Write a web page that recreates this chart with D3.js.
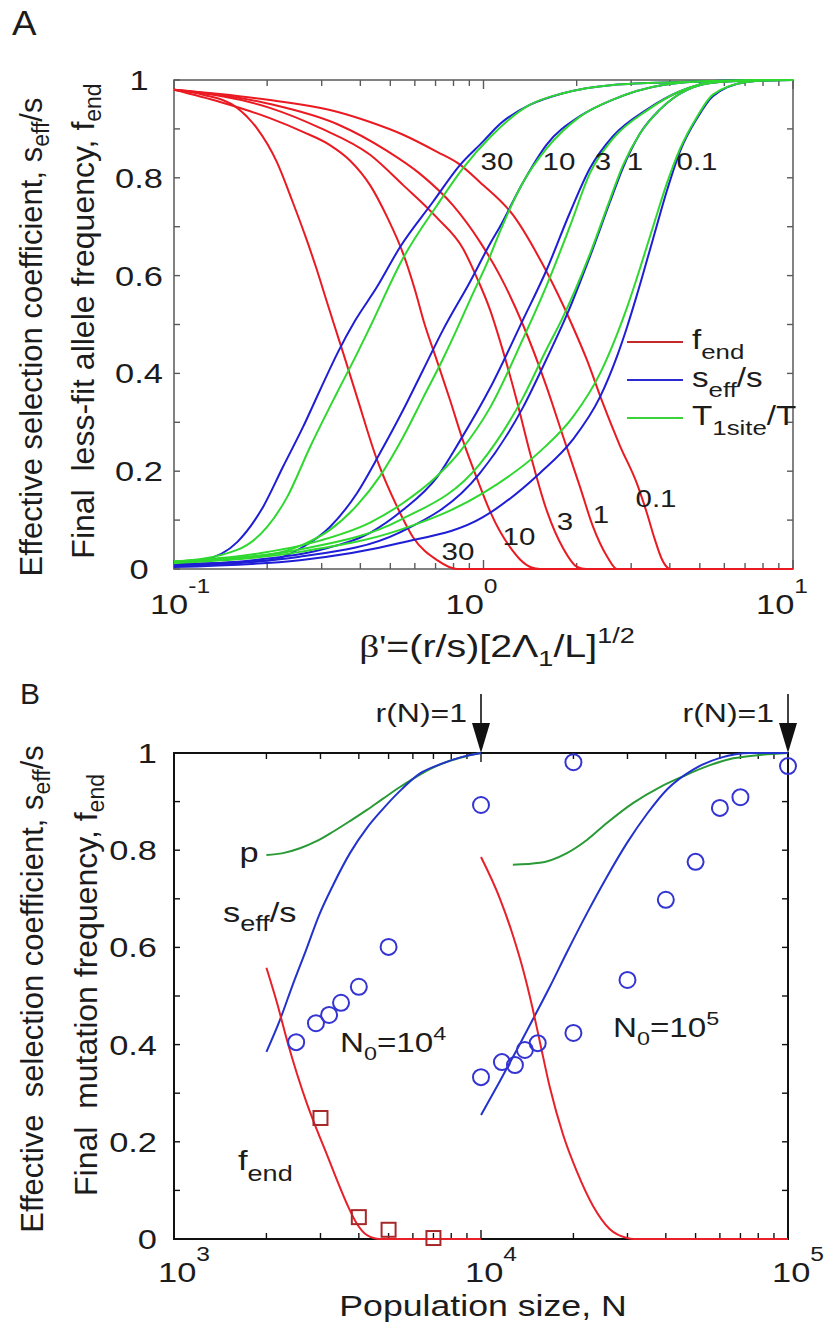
<!DOCTYPE html>
<html>
<head>
<meta charset="utf-8">
<script src="https://cdn.jsdelivr.net/npm/d3@7"></script>
<style>
    body { margin: 0; background: #fff; }
    svg text { font-family: "Liberation Sans", Arial, sans-serif; fill: #1c1c1c; white-space: pre; }
</style>
</head>
<body>
<svg id="canvas" width="824" height="1325"></svg>
<script>
// ---- panel A : [beta', value], one list per curve ----
const fEnd30 = [[0.1,0.98],[0.124,0.97],[0.16,0.943],[0.185,0.902],[0.215,0.832],[0.242,0.75],[0.267,0.677],[0.288,0.616],[0.312,0.546],[0.329,0.5],[0.352,0.442],[0.39,0.352],[0.453,0.223],[0.526,0.127],[0.592,0.065],[0.708,0.018],[0.82,0],[10,0]];
const fEnd10 = [[0.1,0.98],[0.141,0.955],[0.204,0.922],[0.261,0.894],[0.319,0.867],[0.371,0.835],[0.43,0.785],[0.488,0.72],[0.55,0.645],[0.601,0.57],[0.642,0.505],[0.708,0.425],[0.78,0.345],[0.859,0.262],[0.953,0.185],[1.05,0.118],[1.13,0.077],[1.24,0.038],[1.31,0.02],[1.43,0.003],[1.52,0],[10,0]];
const fEnd3 = [[0.1,0.98],[0.204,0.943],[0.296,0.902],[0.43,0.847],[0.55,0.785],[0.708,0.718],[0.859,0.655],[0.953,0.595],[1.05,0.53],[1.157,0.445],[1.28,0.345],[1.41,0.24],[1.6,0.12],[1.81,0.042],[2.0,0.005],[2.15,0],[10,0]];
const fEnd1 = [[0.1,0.98],[0.204,0.951],[0.336,0.91],[0.488,0.855],[0.624,0.808],[0.796,0.744],[0.974,0.669],[1.13,0.6],[1.34,0.5],[1.6,0.372],[1.81,0.27],[2.05,0.168],[2.26,0.086],[2.51,0.025],[2.7,0],[10,0]];
const fEnd01 = [[0.1,0.98],[0.204,0.959],[0.336,0.935],[0.43,0.914],[0.55,0.888],[0.708,0.853],[0.839,0.827],[0.974,0.791],[1.245,0.724],[1.556,0.622],[1.93,0.5],[2.16,0.427],[2.43,0.339],[2.76,0.252],[3.13,0.175],[3.37,0.115],[3.58,0.06],[3.77,0.02],[3.95,0.002],[4.05,0],[10,0]];

const sEff30 = [[0.1,0.012],[0.124,0.018],[0.16,0.055],[0.194,0.127],[0.225,0.209],[0.261,0.29],[0.296,0.365],[0.339,0.444],[0.384,0.507],[0.453,0.577],[0.537,0.658],[0.687,0.751],[0.839,0.826],[0.996,0.874],[1.13,0.91],[1.41,0.949],[1.81,0.973],[2.62,0.99],[4.32,0.996],[10,1]];
const sEff10 = [[0.1,0.01],[0.204,0.018],[0.261,0.045],[0.319,0.086],[0.39,0.155],[0.463,0.237],[0.55,0.325],[0.638,0.407],[0.74,0.489],[0.904,0.587],[1.05,0.665],[1.13,0.7],[1.34,0.79],[1.6,0.868],[2.05,0.926],[2.62,0.96],[3.8,0.99],[5.51,0.998],[10,1]];
const sEff3 = [[0.1,0.008],[0.18,0.018],[0.296,0.039],[0.43,0.074],[0.55,0.121],[0.708,0.188],[0.839,0.262],[1.05,0.37],[1.34,0.509],[1.6,0.612],[1.9,0.728],[2.21,0.82],[2.62,0.885],[3.38,0.94],[4.32,0.977],[5.51,0.996],[7.8,1],[10,1]];
const sEff1 = [[0.1,0.006],[0.255,0.025],[0.537,0.075],[0.974,0.196],[1.34,0.33],[1.6,0.43],[1.86,0.52],[2.21,0.64],[2.56,0.75],[2.82,0.82],[3.2,0.89],[3.72,0.94],[4.55,0.98],[5.8,0.996],[9,1],[10,1]];
const sEff01 = [[0.1,0.004],[0.255,0.018],[0.537,0.053],[0.996,0.106],[1.52,0.196],[1.94,0.264],[2.38,0.352],[2.7,0.435],[2.91,0.495],[3.13,0.56],[3.53,0.675],[3.92,0.775],[4.32,0.855],[4.9,0.922],[5.51,0.967],[7.1,0.996],[9.08,1],[10,1]];

const tSite30 = [[0.1,0.014],[0.16,0.039],[0.2,0.086],[0.232,0.147],[0.275,0.249],[0.336,0.36],[0.39,0.44],[0.43,0.495],[0.55,0.636],[0.708,0.744],[0.859,0.82],[1.05,0.883],[1.41,0.949],[1.81,0.973],[2.62,0.99],[4.32,0.996],[10,1]];
const tSite10 = [[0.1,0.016],[0.204,0.03],[0.261,0.05],[0.319,0.08],[0.39,0.13],[0.463,0.19],[0.55,0.27],[0.638,0.35],[0.74,0.43],[0.82,0.49],[0.904,0.55],[1.05,0.64],[1.13,0.69],[1.34,0.79],[1.6,0.86],[2.05,0.925],[2.62,0.96],[3.8,0.99],[5.51,0.998],[10,1]];
const tSite3 = [[0.1,0.015],[0.18,0.03],[0.296,0.058],[0.43,0.095],[0.55,0.135],[0.708,0.19],[0.839,0.24],[1.05,0.33],[1.34,0.47],[1.6,0.58],[1.9,0.7],[2.21,0.81],[2.62,0.88],[3.38,0.938],[4.32,0.977],[5.51,0.996],[7.8,1],[10,1]];
const tSite1 = [[0.1,0.014],[0.255,0.04],[0.537,0.1],[0.974,0.215],[1.34,0.35],[1.6,0.45],[1.79,0.51],[2.21,0.645],[2.56,0.755],[2.82,0.825],[3.2,0.89],[3.72,0.94],[4.55,0.98],[5.8,0.996],[9,1],[10,1]];
const tSite01 = [[0.1,0.012],[0.255,0.035],[0.537,0.08],[0.996,0.155],[1.52,0.24],[1.94,0.31],[2.38,0.4],[2.7,0.48],[2.91,0.535],[3.13,0.595],[3.53,0.7],[3.92,0.79],[4.32,0.86],[4.9,0.925],[5.51,0.97],[7.1,0.996],[9.08,1],[10,1]];

const familyNames = ["30", "10", "3", "1", "0.1"];
const legendNames = ["f_end", "s_eff/s", "T_1site/T"];

// ---- panel B : [N, value] ----
const pLeft = [[2000,0.79],[2265,0.794],[2572,0.804],[2923,0.819],[3296,0.838],[3743,0.86],[4252,0.883],[4795,0.906],[5447,0.93],[6190,0.952],[6978,0.97],[7925,0.984],[9000,0.994],[10000,1]];
const sEffLeft = [[2000,0.385],[2214,0.451],[2436,0.523],[2694,0.595],[2972,0.667],[3296,0.728],[3743,0.794],[4252,0.846],[4795,0.885],[5447,0.922],[6330,0.958],[7380,0.977],[8570,0.991],[10000,1]];
const fEndLeft = [[2000,0.558],[2165,0.486],[2334,0.409],[2515,0.34],[2712,0.278],[2923,0.224],[3151,0.173],[3396,0.121],[3660,0.072],[3946,0.031],[4253,0.008],[4688,0],[10000,0]];
const pRight = [[12700,0.77],[15560,0.774],[19050,0.794],[22130,0.821],[25700,0.856],[31260,0.897],[38300,0.93],[45500,0.952],[55700,0.975],[66300,0.989],[81100,0.996],[100000,1]];
const sEffRight = [[10000,0.255],[11530,0.325],[13100,0.39],[14760,0.452],[16790,0.52],[19050,0.59],[22130,0.67],[25700,0.745],[29900,0.815],[34750,0.875],[40350,0.925],[49100,0.966],[60100,0.99],[75200,1],[100000,1]];
const fEndRight = [[10000,0.786],[11530,0.7],[12700,0.625],[13700,0.555],[14660,0.48],[15560,0.405],[16790,0.31],[18500,0.215],[20550,0.138],[23170,0.068],[26300,0.02],[29900,0.002],[31500,0],[100000,0]];

const circN4 = [2500, 2900, 3200, 3500, 4000, 5000, 10000, 20000];
const circV4 = [0.405, 0.444, 0.461, 0.486, 0.519, 0.601, 0.893, 0.981];
const circN5 = [10000, 11700, 12900, 13900, 15300, 20000, 30000, 40000, 50000, 60000, 70000, 100000];
const circV5 = [0.333, 0.364, 0.358, 0.389, 0.403, 0.424, 0.533, 0.698, 0.776, 0.887, 0.909, 0.973];
const sqN = [3000, 4000, 5000, 7000];
const sqV = [0.249, 0.045, 0.019, 0.002];
const arrowN = [10000, 100000];

const yTickVals = d3.range(0, 1.0001, 0.1);
const yLabelVals = [0, 0.2, 0.4, 0.6, 0.8, 1];

const svg = d3.select("#canvas");
const SX = 1.23; // the lettering in the figure is drawn wide

function txt(x, y, parts, o = {}) {
    const sx = o.sx === undefined ? SX : o.sx;
    let tr = `translate(${x},${y}) scale(${sx},1)`;
    if (o.rot) tr += " rotate(-90)";
    const t = svg.append("text")
        .attr("transform", tr)
        .attr("text-anchor", o.anchor || "start")
        .attr("font-size", o.size || 28)
        .attr("xml:space", "preserve");
    let cur = 0;
    parts.forEach(p => {
        if (typeof p === "string") p = { t: p };
        const dy = p.dy || 0;
        const sp = t.append("tspan").text(p.t).attr("dy", dy - cur);
        if (p.size) sp.attr("font-size", p.size);
        if (p.font) sp.style("font-family", p.font);
        cur = dy;
    });
    return t;
}

function frame(x, y, col, w) {
    const [x0, x1] = x.range();
    const [y1, y0] = y.range();
    const g = svg.append("g").attr("stroke", col).attr("fill", "none");
    g.append("rect").attr("x", x0).attr("y", y0).attr("width", x1 - x0).attr("height", y1 - y0)
        .attr("stroke-width", w);
    x.ticks().forEach(v => {
        const lg = Math.log10(v);
        const L = Math.abs(lg - Math.round(lg)) < 1e-6 ? 9 : 6;
        g.append("line").attr("x1", x(v)).attr("x2", x(v)).attr("y1", y1).attr("y2", y1 - L).attr("stroke-width", 1.4);
        g.append("line").attr("x1", x(v)).attr("x2", x(v)).attr("y1", y0).attr("y2", y0 + L).attr("stroke-width", 1.4);
    });
    yTickVals.forEach(v => {
        g.append("line").attr("x1", x0).attr("x2", x0 + 6).attr("y1", y(v)).attr("y2", y(v)).attr("stroke-width", 1.4);
        g.append("line").attr("x1", x1).attr("x2", x1 - 6).attr("y1", y(v)).attr("y2", y(v)).attr("stroke-width", 1.4);
    });
}

// ================= panel A =================
const xA = d3.scaleLog().domain([0.1, 10]).range([174, 793]);
const yA = d3.scaleLinear().domain([0, 1]).range([569, 80]);
const lineA = d3.line().x(d => xA(d[0])).y(d => yA(d[1])).curve(d3.curveMonotoneX);

const redA = "#ea1a22", blueA = "#1e1ed6", greenA = "#2fd82f";

frame(xA, yA, "#5a5a5a", 1.5);

[fEnd30, fEnd10, fEnd3, fEnd1, fEnd01].forEach(c => {
    svg.append("path").datum(c).attr("fill", "none").attr("stroke", redA).attr("stroke-width", 2).attr("d", lineA);
});
[sEff30, sEff10, sEff3, sEff1, sEff01].forEach(c => {
    svg.append("path").datum(c).attr("fill", "none").attr("stroke", blueA).attr("stroke-width", 2).attr("d", lineA);
});
[tSite30, tSite10, tSite3, tSite1, tSite01].forEach(c => {
    svg.append("path").datum(c).attr("fill", "none").attr("stroke", greenA).attr("stroke-width", 2).attr("d", lineA);
});

// tick labels
yLabelVals.forEach(v => txt(139, yA(v) + 10, [d3.format("")(+v.toFixed(1))], { anchor: "middle" }));
const xALabels = [[0.1, "-1", 6], [1, "0", -12], [10, "1", -11]];
xALabels.forEach(([v, e, off]) => {
    txt(xA(v) + off, 614, ["10", { t: e, size: 20, dy: -21 }], { anchor: "middle" });
});

// family labels, top row and bottom row
const famTop = [[497, 170], [559, 170], [603, 170], [635, 170], [697, 170]];
const famBot = [[458, 560], [519, 545], [565, 530], [601, 523], [656, 507]];
familyNames.forEach((n, i) => {
    txt(famTop[i][0], famTop[i][1], [n], { anchor: "middle", size: 24 });
    txt(famBot[i][0], famBot[i][1], [n], { anchor: "middle", size: 24 });
});

// legend
const legCols = ["#c42a2c", "#2a2ad0", "#3ad43a"];
legendNames.forEach((name, i) => {
    const ly = 342 + i * 38;
    svg.append("line").attr("x1", 627).attr("x2", 683).attr("y1", ly).attr("y2", ly)
        .attr("stroke", legCols[i]).attr("stroke-width", 2.2);
    const [a, rest] = name.split("_");
    const [sub, tail] = rest.split("/");
    txt(692, ly + 7, [a, { t: sub, size: 21, dy: 10 }, tail !== undefined ? "/" + tail : ""], { size: 27 });
});

// axis titles
txt(42, 337, ["Effective selection coefficient, s", { t: "eff", size: 23, dy: 7 }, "/s"], { rot: true, sx: 1, anchor: "middle", size: 31 });
txt(94, 321, ["Final  less-fit allele frequency, f", { t: "end", size: 23, dy: 7 }], { rot: true, sx: 1, anchor: "middle", size: 32 });
txt(497, 657, [{ t: "β'", font: "'Liberation Serif', 'DejaVu Serif', serif" }, "=(r/s)[2Λ", { t: "1", size: 22, dy: 9 }, "/L]", { t: "1/2", size: 22, dy: -14 }], { anchor: "middle", size: 32 });
txt(12, 35, ["A"], { size: 35, sx: 1.05 });

// ================= panel B =================
const xB = d3.scaleLog().domain([1e3, 1e5]).range([174, 788]);
const yB = d3.scaleLinear().domain([0, 1]).range([1239, 753]);
const lineB = d3.line().x(d => xB(d[0])).y(d => yB(d[1])).curve(d3.curveMonotoneX);

const redB = "#e8202a", blueB = "#2232cc", greenB = "#2a9a36";

frame(xB, yB, "#111", 2);

[[pLeft, greenB], [pRight, greenB], [sEffLeft, blueB], [sEffRight, blueB], [fEndLeft, redB], [fEndRight, redB]]
    .forEach(([c, col]) => {
        svg.append("path").datum(c).attr("fill", "none").attr("stroke", col).attr("stroke-width", 2).attr("d", lineB);
    });

const circles = circN4.map((n, i) => [n, circV4[i]]).concat(circN5.map((n, i) => [n, circV5[i]]));
svg.append("g").selectAll("circle").data(circles).enter().append("circle")
    .attr("cx", d => xB(d[0])).attr("cy", d => yB(d[1])).attr("r", 8)
    .attr("fill", "none").attr("stroke", "#3434d2").attr("stroke-width", 2);

svg.append("g").selectAll("rect").data(sqN.map((n, i) => [n, sqV[i]])).enter().append("rect")
    .attr("x", d => xB(d[0]) - 7).attr("y", d => yB(d[1]) - 7).attr("width", 14).attr("height", 14)
    .attr("fill", "none").attr("stroke", "#a8282a").attr("stroke-width", 2);

// arrows r(N)=1
arrowN.forEach(n => {
    const ax = xB(n);
    svg.append("line").attr("x1", ax).attr("x2", ax).attr("y1", 694).attr("y2", 730)
        .attr("stroke", "#111").attr("stroke-width", 1.6);
    svg.append("path").attr("d", `M${ax - 9},${723}L${ax + 9},${723}L${ax},${yB(1)}Z`).attr("fill", "#111");
    txt(ax - 14, 722, ["r(N)=1"], { anchor: "end", size: 26 });
});

yLabelVals.forEach(v => txt(157, yB(v) + 10, [d3.format("")(+v.toFixed(1))], { anchor: "end" }));
[[1e3, "3"], [1e4, "4"], [1e5, "5"]].forEach(([v, e]) => {
    txt(xB(v) + 10, 1282, ["10", { t: e, size: 20, dy: -21 }], { anchor: "middle" });
});

// curve annotations
txt(249, 862, ["p"], { anchor: "middle", size: 28 });
txt(223, 922, ["s", { t: "eff", size: 22, dy: 9 }, "/s"], { size: 28 });
txt(238, 1170, ["f", { t: "end", size: 22, dy: 11 }], { size: 28 });
txt(340, 1052, ["N", { t: "0", size: 19, dy: 8 }, "=10", { t: "4", size: 19, dy: -12 }], { size: 27 });
txt(613, 1037, ["N", { t: "0", size: 19, dy: 8 }, "=10", { t: "5", size: 19, dy: -12 }], { size: 27 });

// axis titles
txt(43, 989, ["Effective  selection coefficient, s", { t: "eff", size: 23, dy: 7 }, "/s"], { rot: true, sx: 1, anchor: "middle", size: 31 });
txt(97, 985, ["Final  mutation frequency, f", { t: "end", size: 23, dy: 7 }], { rot: true, sx: 1, anchor: "middle", size: 32 });
txt(483, 1316, ["Population size, N"], { anchor: "middle", size: 29 });
txt(20, 704, ["B"], { size: 30, sx: 1 });
</script>
</body>
</html>
